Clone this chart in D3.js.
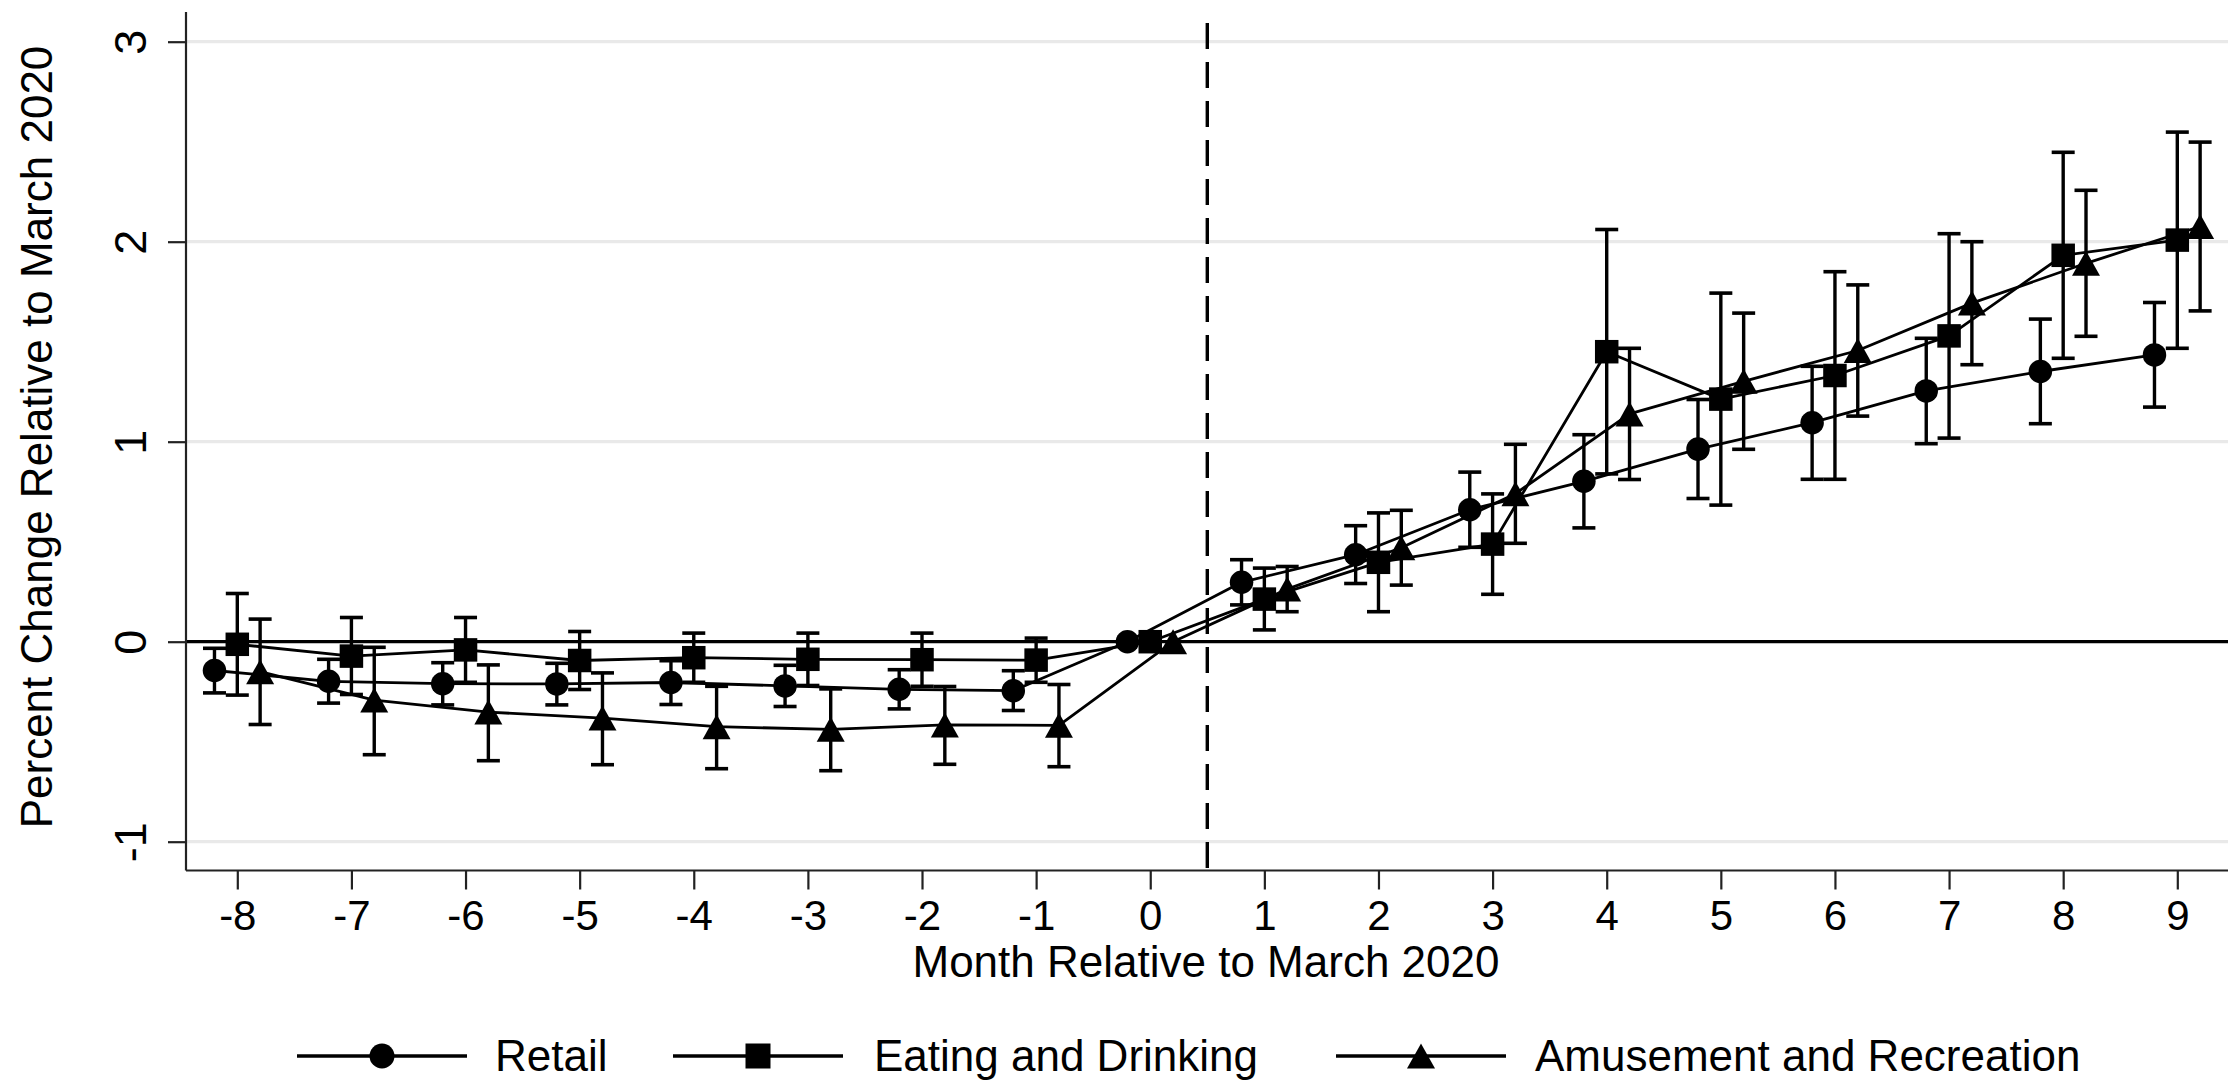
<!DOCTYPE html>
<html>
<head>
<meta charset="utf-8">
<script src="https://cdn.jsdelivr.net/npm/d3@7"></script>
<style>
  html, body { margin: 0; padding: 0; background: #ffffff; }
  svg { display: block; }
  text { font-family: "Liberation Sans", Arial, sans-serif; fill: #000; }
</style>
</head>
<body>
<svg id="chart" width="2228" height="1081"></svg>
<script>
// ---------------- DATA ----------------
const months = [-8,-7,-6,-5,-4,-3,-2,-1,0,1,2,3,4,5,6,7,8,9];

const retailEst = [-0.144,-0.198,-0.210,-0.211,-0.204,-0.221,-0.238,-0.245,0,0.297,0.435,0.660,0.802,0.963,1.095,1.254,1.351,1.434];
const retailLo  = [-0.256,-0.307,-0.316,-0.316,-0.314,-0.324,-0.336,-0.344,null,0.184,0.291,0.472,0.569,0.716,0.812,0.990,1.090,1.173];
const retailHi  = [-0.033,-0.088,-0.105,-0.108,-0.095,-0.118,-0.140,-0.145,null,0.410,0.580,0.848,1.035,1.211,1.377,1.517,1.613,1.696];

const eatingEst = [-0.013,-0.072,-0.041,-0.094,-0.080,-0.088,-0.090,-0.092,0,0.213,0.397,0.488,1.450,1.213,1.331,1.529,1.932,2.008];
const eatingLo  = [-0.267,-0.264,-0.203,-0.239,-0.203,-0.219,-0.223,-0.203,null,0.059,0.150,0.237,0.839,0.683,0.812,1.018,1.417,1.467];
const eatingHi  = [0.241,0.121,0.121,0.051,0.043,0.043,0.043,0.018,null,0.368,0.644,0.739,2.061,1.743,1.850,2.040,2.447,2.548];

const amuseEst = [-0.150,-0.292,-0.352,-0.382,-0.425,-0.438,-0.416,-0.418,0,0.263,0.470,0.740,1.139,1.302,1.456,1.693,1.892,2.076];
const amuseLo  = [-0.414,-0.565,-0.595,-0.615,-0.635,-0.645,-0.613,-0.625,null,0.150,0.283,0.492,0.811,0.962,1.128,1.385,1.527,1.654];
const amuseHi  = [0.113,-0.028,-0.116,-0.156,-0.223,-0.236,-0.224,-0.214,null,0.376,0.657,0.987,1.467,1.643,1.784,2.000,2.257,2.498];

const seriesNames = ["Retail", "Eating and Drinking", "Amusement and Recreation"];
const seriesOffsets = [-0.2, 0, 0.2];
const seriesSymbols = ["circle", "square", "triangle"];

const xTicks = [-8,-7,-6,-5,-4,-3,-2,-1,0,1,2,3,4,5,6,7,8,9];
const yTicks = [-1,0,1,2,3];
const gridValues = [-1,1,2,3];
const treatmentLine = 0.5;

const xTitle = "Month Relative to March 2020";
const yTitle = "Percent Change Relative to March 2020";

// ---------------- LAYOUT ----------------
const svg = d3.select("#chart");
const W = 2228, H = 1081;
const axisX = 186, axisY = 870.5, plotTop = 12, plotRight = W;
const fmt = d => String(d);   // plain hyphen-minus, as in the reference

const x = d3.scaleLinear().domain([-8, 9]).range([237.3, 2177.3]);
const y = d3.scaleLinear().domain([-1, 3]).range([841.7, 41.7]);

const series = [
  {name: seriesNames[0], est: retailEst, lo: retailLo, hi: retailHi, off: seriesOffsets[0], sym: seriesSymbols[0]},
  {name: seriesNames[1], est: eatingEst, lo: eatingLo, hi: eatingHi, off: seriesOffsets[1], sym: seriesSymbols[1]},
  {name: seriesNames[2], est: amuseEst, lo: amuseLo, hi: amuseHi, off: seriesOffsets[2], sym: seriesSymbols[2]}
];

// gridlines
svg.append("g").selectAll("line").data(gridValues).join("line")
  .attr("x1", axisX).attr("x2", plotRight)
  .attr("y1", d => y(d)).attr("y2", d => y(d))
  .attr("stroke", "#e9e9e9").attr("stroke-width", 3.3);

// zero line
svg.append("line")
  .attr("x1", axisX).attr("x2", plotRight)
  .attr("y1", y(0)).attr("y2", y(0))
  .attr("stroke", "#000").attr("stroke-width", 3.2);

// dashed vertical line
svg.append("line")
  .attr("x1", x(treatmentLine)).attr("x2", x(treatmentLine))
  .attr("y1", 23).attr("y2", axisY)
  .attr("stroke", "#000").attr("stroke-width", 3.4)
  .attr("stroke-dasharray", "26,13");

// axes
const xAxis = d3.axisBottom(x).tickValues(xTicks).tickSize(19).tickSizeOuter(0).tickPadding(8)
  .tickFormat(fmt);
const gx = svg.append("g").attr("transform", `translate(0,${axisY})`).call(xAxis);
gx.select(".domain").attr("d", `M${axisX},0H${plotRight}`).attr("stroke", "#222").attr("stroke-width", 2.2);
gx.selectAll(".tick line").attr("stroke", "#222").attr("stroke-width", 2.2);
gx.selectAll(".tick text")
  .attr("font-size", 42).attr("font-family", "Liberation Sans, Arial, sans-serif")
  .attr("fill", "#000").attr("dy", null).attr("y", 59);

const yAxis = d3.axisLeft(y).tickValues(yTicks).tickSize(18).tickSizeOuter(0).tickFormat(fmt);
const gy = svg.append("g").attr("transform", `translate(${axisX},0)`).call(yAxis);
gy.select(".domain").attr("d", `M0,${plotTop}V${axisY}`).attr("stroke", "#222").attr("stroke-width", 2.2);
gy.selectAll(".tick line").attr("stroke", "#222").attr("stroke-width", 2.2);
gy.selectAll(".tick text")
  .attr("font-size", 45).attr("font-family", "Liberation Sans, Arial, sans-serif")
  .attr("fill", "#000")
  .attr("x", null).attr("dy", null)
  .attr("transform", "translate(-40,0) rotate(-90)")
  .attr("text-anchor", "middle")
  .attr("y", 0);

// axis titles
svg.append("text")
  .attr("x", 1206).attr("y", 977)
  .attr("text-anchor", "middle").attr("font-size", 44)
  .text(xTitle);
svg.append("text")
  .attr("transform", "translate(52,437) rotate(-90)")
  .attr("text-anchor", "middle").attr("font-size", 44)
  .text(yTitle);

// marker drawing
function marker(g, sym, cx, cy, s) {
  if (sym === "circle") {
    g.append("circle").attr("cx", cx).attr("cy", cy).attr("r", s * 0.5).attr("fill", "#000");
  } else if (sym === "square") {
    g.append("rect").attr("x", cx - s * 0.5).attr("y", cy - s * 0.5)
      .attr("width", s).attr("height", s).attr("fill", "#000");
  } else {
    const w = s * 1.12, h = s;
    g.append("path")
      .attr("d", `M${cx},${cy - h / 2}L${cx + w / 2},${cy + h / 2}L${cx - w / 2},${cy + h / 2}Z`)
      .attr("fill", "#000");
  }
}

const capHalf = 11.5;
const markerSize = 23.5;

series.forEach(s => {
  const pts = months.map((m, i) => ({m: m + s.off, est: s.est[i], lo: s.lo[i], hi: s.hi[i]}));
  const g = svg.append("g");
  // connecting line
  const line = d3.line().x(d => x(d.m)).y(d => y(d.est));
  g.append("path").datum(pts).attr("d", line)
    .attr("fill", "none").attr("stroke", "#000").attr("stroke-width", 2.8)
    .attr("stroke-linejoin", "round");
  // error bars
  const ci = pts.filter(d => d.lo !== null && d.hi !== null);
  g.selectAll(".v").data(ci).join("line")
    .attr("x1", d => x(d.m)).attr("x2", d => x(d.m))
    .attr("y1", d => y(d.lo)).attr("y2", d => y(d.hi))
    .attr("stroke", "#000").attr("stroke-width", 3.4);
  ["lo", "hi"].forEach(k => {
    g.selectAll(".c" + k).data(ci).join("line")
      .attr("x1", d => x(d.m) - capHalf).attr("x2", d => x(d.m) + capHalf)
      .attr("y1", d => y(d[k])).attr("y2", d => y(d[k]))
      .attr("stroke", "#000").attr("stroke-width", 3.6);
  });
  // markers
  const ms = s.sym === "triangle" ? markerSize + 1.5 : markerSize;
  pts.forEach(d => marker(g, s.sym, x(d.m), y(d.est), ms));
});

// legend
const legendY = 1056;
const legendItems = [
  {x1: 297, x2: 467, tx: 495},
  {x1: 673, x2: 843, tx: 874},
  {x1: 1336, x2: 1506, tx: 1535}
];
series.forEach((s, i) => {
  const it = legendItems[i];
  const lg = svg.append("g");
  lg.append("line").attr("x1", it.x1).attr("x2", it.x2)
    .attr("y1", legendY).attr("y2", legendY)
    .attr("stroke", "#000").attr("stroke-width", 3.6);
  marker(lg, s.sym, (it.x1 + it.x2) / 2, legendY, 25);
  lg.append("text").attr("x", it.tx).attr("y", legendY + 15)
    .attr("font-size", 44).text(s.name);
});
</script>
</body>
</html>
